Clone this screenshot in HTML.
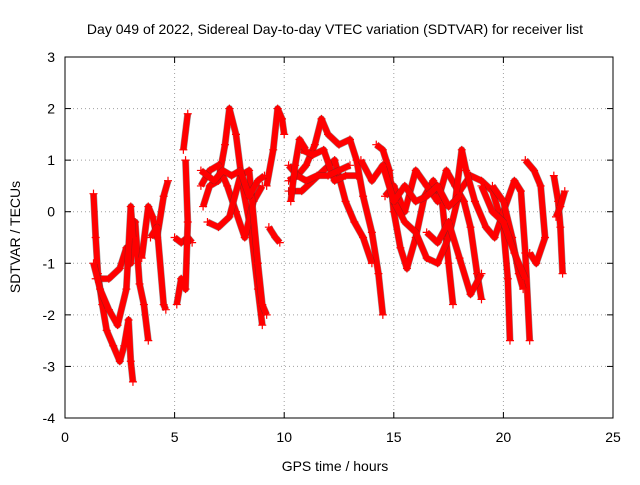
<!DOCTYPE html>
<html><head><meta charset="utf-8"><style>
body{margin:0;background:#fff;font-family:"Liberation Sans",sans-serif;}
svg text{font-family:"Liberation Sans",sans-serif;font-size:14px;fill:#000;}
</style></head><body>
<svg id="chart" width="640" height="480" xmlns="http://www.w3.org/2000/svg">
<rect width="640" height="480" fill="#fff"/>
<text x="335" y="34" text-anchor="middle">Day 049 of 2022, Sidereal Day-to-day VTEC variation (SDTVAR) for receiver list</text>
<g id="grid"></g><g id="ticks"></g><g id="series"></g>
<rect x="65" y="57" width="548" height="361" fill="none" stroke="#000" stroke-width="1"/>
<text x="335" y="471" text-anchor="middle">GPS time / hours</text>
<text transform="translate(20,237) rotate(-90)" text-anchor="middle">SDTVAR / TECUs</text>
</svg>
<script>
const xTicks=[0,5,10,15,20,25];
const yTicks=[3,2,1,0,-1,-2,-3,-4];
const track1=[[1.3,0.35],[1.4,-0.5],[1.5,-1.2],[1.7,-1.8],[1.9,-2.3],[2.2,-2.6],[2.5,-2.9],[2.7,-2.6],[2.9,-2.1],[3.0,-2.9],[3.1,-3.3]];
const track2=[[1.4,-1.3],[2,-1.3],[2.5,-1.1],[2.8,-0.7],[3.0,-1.0],[3.2,-0.2],[3.4,-1.4],[3.6,-1.8],[3.8,-2.5]];
const track3=[[1.3,-1.0],[1.6,-1.5],[2,-1.9],[2.4,-2.2],[2.8,-1.5],[3.0,0.1],[3.1,-0.5]];
const track4=[[3.5,-0.9],[3.8,0.1],[4.0,-0.1],[4.2,-0.5],[4.5,0.3],[4.7,0.6]];
const track5=[[3.9,-0.5],[4.2,-0.3],[4.5,-1.8],[4.6,-1.9]];
const track6=[[5.0,-0.5],[5.3,-0.6],[5.6,-0.5],[5.8,-0.6]];
const track7=[[5.1,-1.8],[5.3,-1.3],[5.5,-1.5],[5.6,-0.2],[5.5,1.0]];
const track8=[[5.4,1.2],[5.6,1.9]];
const track9=[[6.3,0.1],[6.6,0.5],[7.0,0.6],[7.3,1.3],[7.5,2.0],[7.8,1.5],[8.1,0.5],[8.5,-0.4],[8.8,-1.5],[9.0,-2.2]];
const track10=[[6.2,0.5],[6.6,0.8],[7.0,0.9],[7.4,0.5],[7.8,0.0],[8.2,-0.5],[8.6,0.2],[9.0,0.5]];
const track11=[[6.5,-0.2],[7.0,-0.3],[7.5,-0.1],[8.0,0.7],[8.4,0.8],[8.8,-1.0],[9.0,-1.8],[9.2,-2.0]];
const track12=[[9.2,0.5],[9.5,1.2],[9.7,2.0],[9.9,1.8],[10,1.5]];
const track13=[[9.3,-0.3],[9.6,-0.5],[9.8,-0.6]];
const track14=[[10.2,0.6],[10.6,0.7],[11,0.9],[11.4,1.3],[11.7,1.8],[12,1.5],[12.5,1.3],[13,1.4],[13.3,1.0],[13.6,0.3],[14,-0.4],[14.3,-1.2],[14.5,-2.0]];
const track15=[[10.2,0.4],[10.8,0.4],[11.3,0.6],[11.8,0.8],[12.3,1.0],[12.8,0.2],[13.2,-0.2],[13.6,-0.5],[14.0,-1.0]];
const track16=[[10.8,1.2],[11.3,1.1],[11.8,1.2],[12.3,0.6],[12.8,0.7],[13.3,0.7]];
const track17=[[14.2,1.3],[14.5,1.2],[14.8,0.8],[15,0.0],[15.3,-0.7],[15.6,-1.1],[16,-0.5],[16.4,0.3],[16.8,0.6],[17.2,0.2],[17.5,-1.0],[17.7,-1.8]];
const track18=[[14.6,0.3],[15,0.5],[15.5,0.0],[16,0.8],[16.5,0.5],[17,0.2],[17.4,0.8],[17.8,0.5],[18.2,0.2],[18.5,-0.3],[18.8,-1.2],[19,-1.7]];
const track19=[[15,0.2],[15.5,-0.2],[16,-0.4],[16.5,-0.9],[17,-1.0],[17.5,-0.5],[18,0.4],[18.5,0.7],[19,0.6],[19.5,0.4],[20,-0.3],[20.2,-1.3],[20.3,-2.5]];
const track20=[[17.8,0.2],[18.1,1.2],[18.3,0.8],[18.7,0.2],[19.2,-0.3],[19.6,-0.5],[20,0.0],[20.5,0.6],[20.8,0.4],[21,-0.8],[21.2,-2.5]];
const track21=[[16.5,-0.4],[17,-0.6],[17.5,-0.2],[18,-0.9],[18.5,-1.6],[19,-1.2]];
const track22=[[19.5,0.5],[20,0.2],[20.4,-0.5],[20.7,-1.2],[20.9,-1.5]];
const track23=[[21,1.0],[21.4,0.8],[21.7,0.5],[21.9,-0.5],[21.5,-1.0],[21.2,-0.8]];
const track24=[[22.3,0.7],[22.5,0.2],[22.6,-0.3],[22.7,-1.2]];
const track25=[[22.4,-0.1],[22.6,0.1],[22.8,0.4]];
const track26=[[6.2,0.8],[6.8,0.6],[7.2,0.8],[7.6,0.7],[8.0,0.8],[8.4,0.3],[8.8,0.6],[9.1,0.7]];
const track27=[[10.2,0.9],[10.6,0.7],[11,0.6],[11.5,0.7],[12,0.7],[12.5,0.8],[13,0.9]];
const track28=[[13.5,1.0],[14,0.6],[14.5,0.9],[15,0.2],[15.5,0.5],[16,0.2],[16.5,0.3],[17,0.5],[17.5,0.1],[18,0.3]];
const track29=[[19,0.5],[19.5,0.0],[20,-0.2],[20.5,-0.8],[21,-1.3]];
const track30=[[10.3,0.2],[10.5,0.9],[10.7,1.4],[11,1.2]];
const tracks=[track1,track2,track3,track4,track5,track6,track7,track8,track9,track10,track11,track12,track13,track14,track15,track16,track17,track18,track19,track20,track21,track22,track23,track24,track25,track26,track27,track28,track29,track30];

const NS="http://www.w3.org/2000/svg";
const X0=65,X1=613,Y0=418,Y1=57;
function xs(t){return X0+(t-0)/(25-0)*(X1-X0);}
function ys(v){return Y0-(v-(-4))/(3-(-4))*(Y0-Y1);}
function mk(tag,attrs,parent){const e=document.createElementNS(NS,tag);for(const k in attrs)e.setAttribute(k,attrs[k]);parent.appendChild(e);return e;}
const grid=document.getElementById('grid'),ticks=document.getElementById('ticks'),ser=document.getElementById('series');
xTicks.forEach(t=>{
  const x=xs(t);
  if(t>0&&t<25){const g=mk('line',{x1:x,x2:x,y1:Y1,y2:Y0,stroke:'#a0a0a0','stroke-dasharray':'1,3'},grid);
  
  }
  mk('line',{x1:x,x2:x,y1:Y0,y2:Y0-6,stroke:'#000'},ticks);
  mk('line',{x1:x,x2:x,y1:Y1,y2:Y1+6,stroke:'#000'},ticks);
  const l=mk('text',{x:x,y:Y0+24,'text-anchor':'middle'},ticks);l.textContent=t;
  
  
});
yTicks.forEach(v=>{
  const y=ys(v);
  if(v>-4&&v<3){const g=mk('line',{x1:X0,x2:X1,y1:y,y2:y,stroke:'#a0a0a0','stroke-dasharray':'1,3'},grid);
  
  }
  mk('line',{x1:X0,x2:X0+6,y1:y,y2:y,stroke:'#000'},ticks);
  mk('line',{x1:X1,x2:X1-6,y1:y,y2:y,stroke:'#000'},ticks);
  const l=mk('text',{x:X0-10,y:y+5,'text-anchor':'end'},ticks);l.textContent=v;
  
  
});
tracks.forEach((tr,i)=>{
  const g=mk('g',{},ser);
  
  
  const pts=tr.map(p=>xs(p[0])+','+ys(p[1])).join(' ');
  mk('polyline',{points:pts,fill:'none',stroke:'#333',"stroke-width":7,"stroke-linejoin":'round',opacity:0.5},g);
  mk('polyline',{points:pts,fill:'none',stroke:'#f00',"stroke-width":6,"stroke-linejoin":'round'},g);
  tr.forEach(p=>{
    const x=xs(p[0]),y=ys(p[1]);
    mk('path',{d:`M${x-4},${y}H${x+4}M${x},${y-4}V${y+4}`,stroke:'#f00','stroke-width':1.2},g);
  });
});
</script>
</body></html>
